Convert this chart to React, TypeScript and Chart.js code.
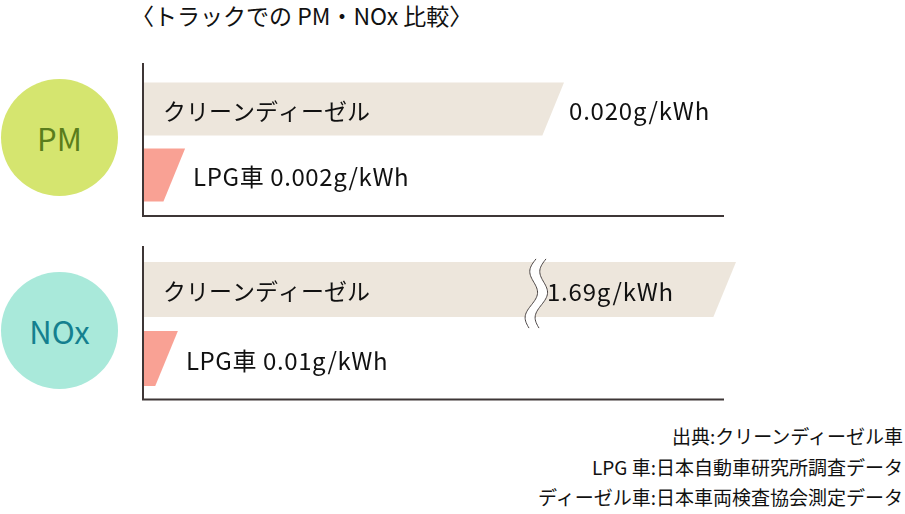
import { useEffect, useRef } from 'react';
import { Chart, registerables } from 'chart.js';

Chart.register(...registerables);

const FONT = '"Noto Sans CJK JP", "Noto Sans", sans-serif';

// chart data
const title = '〈トラックでの PM・NOx 比較〉';
const categories = ['クリーンディーゼル', 'LPG車'];
const pollutants = ['PM', 'NOx'];
const pmValues = [0.02, 0.002];
const noxValues = [1.69, 0.01];
const pmValueLabels = ['0.020', '0.002'];
const noxValueLabels = ['1.69', '0.01'];
const unit = 'g/kWh';
const sources = [
  '出典:クリーンディーゼル車',
  'LPG 車:日本自動車研究所調査データ',
  'ディーゼル車:日本車両検査協会測定データ',
];

const barColors = ['#ede6dc', '#f9a194'];
const circleColors = ['#d5e56f', '#a9e9da'];
const circleTextColors = ['#5a7d1c', '#14808f'];

interface GroupProps {
  values: number[];
  valueLabels: string[];
  max: number;
  top: number;
  height: number;
  padTop: number;
  padBottom: number;
  frameTop: number;
  frameBottom: number;
}

function makeBarPlugin(p: GroupProps) {
  return {
    id: 'slantBars',
    afterDatasetsDraw(chart: any) {
      const { ctx, chartArea } = chart;
      const meta = chart.getDatasetMeta(0);
      const data = chart.data.datasets[0].data as number[];
      const xScale = chart.scales.x;
      ctx.save();
      meta.data.forEach((bar: any, i: number) => {
        const { x, y, base, height } = bar.getProps(['x', 'y', 'base', 'height'], true);
        const top = y - height / 2;
        const bottom = y + height / 2;
        const broken = data[i] > xScale.max;
        const end = Math.min(x, chartArea.right);
        const slant = height * 0.41;

        ctx.fillStyle = barColors[i];
        ctx.beginPath();
        ctx.moveTo(base, top);
        ctx.lineTo(end, top);
        ctx.lineTo(end - slant, bottom);
        ctx.lineTo(base, bottom);
        ctx.closePath();
        ctx.fill();

        let breakX = 0;
        if (broken) {
          // wavy break marks
          breakX = chartArea.right - 199;
          const wTop = top - 3;
          const wBot = bottom + 11;
          const wave = (cx: number) => {
            const pts: [number, number][] = [];
            for (let t = 0; t <= 1.0001; t += 0.02) {
              pts.push([cx - 5 * Math.sin(t * Math.PI * 3) - 7 * t, wTop + t * (wBot - wTop)]);
            }
            return pts;
          };
          const l = wave(breakX - 1);
          const r = wave(breakX + 9);
          ctx.fillStyle = '#ffffff';
          ctx.beginPath();
          l.forEach(([px, py], k) => (k ? ctx.lineTo(px, py) : ctx.moveTo(px, py)));
          r.slice().reverse().forEach(([px, py]) => ctx.lineTo(px, py));
          ctx.closePath();
          ctx.fill();
          ctx.strokeStyle = '#4a4444';
          ctx.lineWidth = 1;
          [l, r].forEach((pts) => {
            ctx.beginPath();
            pts.forEach(([px, py], k) => (k ? ctx.lineTo(px, py) : ctx.moveTo(px, py)));
            ctx.stroke();
          });
        }

        ctx.fillStyle = '#111111';
        ctx.textBaseline = 'middle';
        ctx.textAlign = 'left';
        const ty = y + 2;
        if (i === 0) {
          ctx.font = `23px ${FONT}`;
          ctx.letterSpacing = '0px';
          ctx.fillText(categories[i], base + 20, ty);
          ctx.font = `24px ${FONT}`;
          ctx.letterSpacing = '0.8px';
          const vx = broken ? breakX + 10 : end + 5;
          ctx.fillText(p.valueLabels[i] + unit, vx, ty);
        } else {
          ctx.font = `24px ${FONT}`;
          ctx.letterSpacing = '0.6px';
          ctx.fillText(`${categories[i]} ${p.valueLabels[i]}${unit}`, end + 8, ty);
        }
        ctx.letterSpacing = '0px';
      });

      // axis frame
      ctx.strokeStyle = '#3e3636';
      ctx.lineWidth = 2;
      ctx.beginPath();
      ctx.moveTo(chartArea.left, chartArea.top - p.frameTop);
      ctx.lineTo(chartArea.left, chartArea.bottom + p.frameBottom);
      ctx.lineTo(chartArea.right - 12, chartArea.bottom + p.frameBottom);
      ctx.stroke();
      ctx.restore();
    },
  };
}

function BarGroup(props: GroupProps) {
  const canvasRef = useRef<HTMLCanvasElement>(null);

  useEffect(() => {
    if (!canvasRef.current) return;
    const chart = new Chart(canvasRef.current, {
      type: 'bar',
      data: {
        labels: categories,
        datasets: [
          {
            data: props.values,
            backgroundColor: 'rgba(0,0,0,0)',
            borderWidth: 0,
            barPercentage: 0.8,
            categoryPercentage: 1,
          },
        ],
      },
      options: {
        indexAxis: 'y',
        responsive: true,
        maintainAspectRatio: false,
        animation: false,
        events: [],
        layout: { padding: { left: 143, right: 169, top: props.padTop, bottom: props.padBottom } },
        scales: {
          x: { display: false, min: 0, max: props.max },
          y: { display: false },
        },
        plugins: { legend: { display: false }, tooltip: { enabled: false } },
      },
      plugins: [makeBarPlugin(props)],
    });
    return () => chart.destroy();
  }, [props]);

  return (
    <div style={{ position: 'absolute', left: 0, top: props.top, width: 905, height: props.height }}>
      <canvas ref={canvasRef} />
    </div>
  );
}

const pmGroup: GroupProps = {
  values: pmValues,
  valueLabels: pmValueLabels,
  max: 0.02817,
  top: 40,
  height: 190,
  padTop: 36,
  padBottom: 22,
  frameTop: 13,
  frameBottom: 8,
};

const noxGroup: GroupProps = {
  values: noxValues,
  valueLabels: noxValueLabels,
  max: 0.17,
  top: 230,
  height: 190,
  padTop: 25,
  padBottom: 27,
  frameTop: 9,
  frameBottom: 6.5,
};

const circleTops = [79, 272];

export default function App() {
  return (
    <div
      style={{
        position: 'absolute',
        left: 0,
        top: 0,
        width: 905,
        height: 514,
        background: '#ffffff',
        fontFamily: FONT,
        color: '#111111',
        overflow: 'hidden',
      }}
    >
      <div style={{ position: 'absolute', left: 131, top: 3, fontSize: 23, lineHeight: '24px', whiteSpace: 'nowrap' }}>
        {title}
      </div>

      {pollutants.map((name, i) => (
        <div
          key={name}
          style={{
            position: 'absolute',
            left: 1,
            top: circleTops[i],
            width: 117,
            height: 117,
            borderRadius: '50%',
            background: circleColors[i],
            color: circleTextColors[i],
            fontSize: 31,
            fontWeight: 400,
            lineHeight: 1,
            display: 'flex',
            alignItems: 'center',
            justifyContent: 'center',
          }}
        >
          {name}
        </div>
      ))}

      <BarGroup {...pmGroup} />
      <BarGroup {...noxGroup} />

      <div
        style={{
          position: 'absolute',
          right: 2,
          top: 421,
          fontSize: 19,
          lineHeight: '30.5px',
          textAlign: 'right',
          whiteSpace: 'nowrap',
        }}
      >
        {sources.map((s) => (
          <div key={s}>{s}</div>
        ))}
      </div>
    </div>
  );
}
